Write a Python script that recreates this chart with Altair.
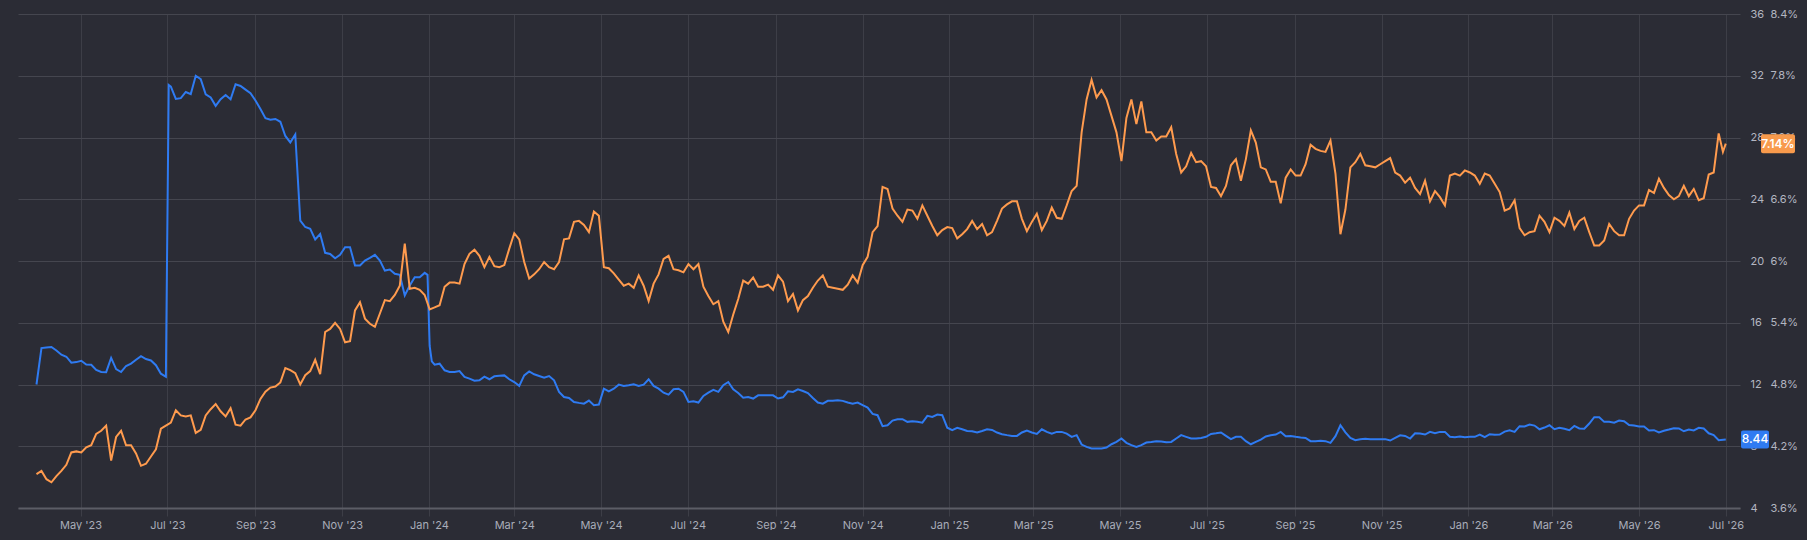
import altair as alt
import pandas as pd
import jinja2

# ---------------- data ----------------
# weekly readings (Fridays from 2023-03-31) and mid-week readings (3.5 days later)
WEEK_START = "2023-03-31"
MIDWEEK_START = "2023-04-03 12:00"

BLUE_WEEKLY = [
    12.0, 14.4, 14.2, 13.8, 13.45, 13.3, 12.95, 12.8, 13.0, 13.2,
    13.6, 13.65, 13.25, 12.5, 30.5, 30.95, 32.0, 30.8, 30.05, 30.75,
    31.45, 31.1, 30.4, 29.25, 29.2, 28.1, 28.2, 22.2, 21.4, 20.53,
    20.18, 20.89, 19.71, 20.03, 20.40, 19.38, 19.17, 17.77, 18.95, 19.23,
    13.28, 12.92, 12.81, 12.49, 12.25, 12.51, 12.53, 12.59, 12.16, 12.59,
    12.66, 12.44, 12.27, 11.19, 10.87, 10.76, 10.66, 11.73, 11.73, 11.91,
    12.01, 11.99, 11.91, 11.47, 11.69, 11.52, 10.91, 11.26, 11.65, 11.95,
    11.69, 11.15, 11.09, 11.30, 11.30, 11.17, 11.52, 11.58, 11.13, 10.76,
    10.94, 10.94, 10.76, 10.66, 10.09, 9.30, 9.66, 9.75, 9.62, 9.53,
    9.90, 10.01, 9.04, 9.10, 8.97, 8.99, 9.06, 8.78, 8.67, 8.89,
    8.89, 9.10, 8.82, 8.93, 8.61, 8.11, 7.85, 7.85, 8.13, 8.50,
    8.07, 8.07, 8.28, 8.31, 8.28, 8.72, 8.50, 8.54, 8.80, 8.89,
    8.46, 8.61, 8.13, 8.43, 8.71, 8.93, 8.67, 8.56, 8.33, 8.35,
    8.22, 9.36, 8.54, 8.46, 8.46, 8.46, 8.37, 8.71, 8.50, 8.82,
    8.93, 8.93, 8.61, 8.63, 8.61, 8.76, 8.78, 8.76, 9.04, 9.30,
    9.41, 9.10, 9.36, 9.19, 9.04, 9.15, 9.47, 9.88, 9.58, 9.66,
    9.38, 9.28, 9.02, 8.89, 9.08, 9.15, 9.08, 9.19, 8.84, 8.39,
]

BLUE_MIDWEEK = [
    14.36, 14.43, 13.93, 13.41, 13.54, 13.28, 12.81, 13.72, 12.81, 13.35,
    13.84, 13.56, 12.70, 31.30, 30.55, 30.81, 31.78, 30.59, 30.48, 30.48,
    31.34, 30.87, 29.84, 29.15, 29.02, 27.68, 22.62, 22.08, 21.75, 20.46,
    20.40, 20.89, 19.71, 20.20, 20.03, 19.45, 19.10, 18.41, 18.95, 14.5,
    13.35, 12.81, 12.87, 12.38, 12.27, 12.34, 12.57, 12.34, 11.91, 12.85,
    12.55, 12.55, 11.52, 11.13, 10.81, 10.96, 10.70, 11.56, 11.99, 11.95,
    11.91, 12.34, 11.73, 11.34, 11.73, 10.87, 10.83, 11.47, 11.52, 12.16,
    11.45, 11.19, 11.30, 11.30, 11.09, 11.56, 11.69, 11.45, 10.83, 10.94,
    10.98, 10.83, 10.83, 10.50, 10.01, 9.36, 9.75, 9.58, 9.58, 9.97,
    10.05, 9.20, 9.19, 8.99, 8.89, 9.10, 8.89, 8.72, 8.67, 9.02,
    8.80, 8.93, 8.93, 8.82, 8.72, 7.96, 7.85, 7.92, 8.28, 8.22,
    7.96, 8.24, 8.33, 8.26, 8.50, 8.61, 8.50, 8.61, 8.84, 8.67,
    8.61, 8.33, 8.28, 8.63, 8.76, 8.65, 8.61, 8.54, 8.33, 8.33,
    8.65, 8.90, 8.39, 8.48, 8.46, 8.46, 8.54, 8.67, 8.84, 8.76,
    8.84, 8.93, 8.59, 8.59, 8.61, 8.59, 8.74, 8.95, 8.93, 9.28,
    9.34, 9.21, 9.10, 9.13, 9.32, 9.13, 9.88, 9.58, 9.53, 9.62,
    9.34, 9.28, 9.04, 9.00, 9.17, 8.97, 9.02, 9.15, 8.72,
]

ORANGE_WEEKLY = [
    3.93, 3.88, 3.91, 4.02, 4.15, 4.19, 4.32, 4.40, 4.29, 4.21,
    4.13, 4.03, 4.17, 4.40, 4.55, 4.49, 4.33, 4.50, 4.61, 4.49,
    4.41, 4.46, 4.55, 4.73, 4.78, 4.96, 4.91, 4.89, 5.04, 5.31,
    5.40, 5.21, 5.52, 5.44, 5.36, 5.62, 5.67, 6.17, 5.74, 5.67,
    5.55, 5.75, 5.79, 5.97, 6.11, 5.94, 5.95, 5.96, 6.27, 5.99,
    5.87, 5.99, 5.92, 6.21, 6.38, 6.35, 6.48, 5.94, 5.88, 5.76,
    5.74, 5.76, 5.78, 6.02, 5.92, 5.89, 5.92, 5.75, 5.58, 5.41,
    5.48, 5.81, 5.84, 5.75, 5.72, 5.80, 5.68, 5.62, 5.74, 5.86,
    5.74, 5.72, 5.86, 5.96, 6.28, 6.72, 6.51, 6.38, 6.49, 6.54,
    6.34, 6.30, 6.32, 6.26, 6.39, 6.36, 6.28, 6.51, 6.58, 6.41,
    6.38, 6.30, 6.52, 6.41, 6.68, 7.25, 7.76, 7.66, 7.41, 6.97,
    7.57, 7.55, 7.25, 7.21, 7.30, 6.86, 7.05, 6.97, 6.72, 6.63,
    6.93, 6.78, 7.27, 6.91, 6.77, 6.56, 6.89, 6.83, 7.13, 7.07,
    7.17, 6.26, 6.91, 7.04, 6.92, 6.94, 7.00, 6.83, 6.81, 6.65,
    6.58, 6.62, 6.83, 6.83, 6.86, 6.75, 6.83, 6.67, 6.51, 6.32,
    6.28, 6.44, 6.28, 6.39, 6.47, 6.39, 6.28, 6.15, 6.36, 6.25,
    6.41, 6.54, 6.69, 6.80, 6.64, 6.63, 6.63, 6.59, 6.84, 7.24,
]

ORANGE_MIDWEEK = [
    3.96, 3.85, 3.96, 4.14, 4.14, 4.21, 4.35, 4.06, 4.35, 4.21,
    4.01, 4.10, 4.37, 4.43, 4.50, 4.50, 4.36, 4.56, 4.54, 4.57,
    4.40, 4.48, 4.66, 4.77, 4.82, 4.94, 4.80, 4.93, 4.90, 5.34,
    5.34, 5.22, 5.60, 5.39, 5.49, 5.61, 5.76, 5.73, 5.72, 5.53,
    5.57, 5.79, 5.78, 6.07, 6.05, 6.04, 5.94, 6.12, 6.21, 5.83,
    5.92, 5.94, 5.99, 6.22, 6.39, 6.28, 6.44, 5.93, 5.82, 5.78,
    5.86, 5.61, 5.87, 6.05, 5.91, 5.97, 5.97, 5.66, 5.61, 5.31,
    5.63, 5.78, 5.75, 5.77, 5.86, 5.61, 5.52, 5.66, 5.81, 5.75,
    5.73, 5.77, 5.79, 6.04, 6.34, 6.70, 6.44, 6.50, 6.41, 6.44,
    6.25, 6.33, 6.22, 6.31, 6.31, 6.25, 6.39, 6.55, 6.58, 6.29,
    6.46, 6.39, 6.42, 6.54, 6.73, 7.57, 7.59, 7.57, 7.25, 7.39,
    7.33, 7.25, 7.17, 7.21, 7.04, 6.92, 6.96, 6.92, 6.71, 6.73,
    6.99, 6.99, 7.15, 6.89, 6.77, 6.81, 6.83, 6.94, 7.09, 7.06,
    6.85, 6.50, 6.96, 6.93, 6.91, 6.97, 6.86, 6.76, 6.71, 6.78,
    6.68, 6.54, 6.85, 6.88, 6.83, 6.85, 6.75, 6.49, 6.59, 6.25,
    6.29, 6.38, 6.42, 6.34, 6.31, 6.42, 6.15, 6.20, 6.29, 6.25,
    6.49, 6.54, 6.66, 6.71, 6.60, 6.73, 6.70, 6.61, 6.86,
]

# a few extra readings at the sharp steps and at the very end
BLUE_EXTRA_DATES = ["2023-07-02", "2023-12-31", "2024-01-03", "2026-07-01"]
BLUE_EXTRA = [31.4, 19.1, 13.5, 8.44]

ORANGE_EXTRA_DATES = ["2026-06-29", "2026-07-01"]
ORANGE_EXTRA = [7.06, 7.14]

LEFT_TICKS = [4, 8, 12, 16, 20, 24, 28, 32, 36]
RIGHT_TICKS = [3.6, 4.2, 4.8, 5.4, 6.0, 6.6, 7.2, 7.8, 8.4]

# ---------------- styling ----------------
BG = "#2b2c35"
GRID = "#45464f"
VGRID = "#3d3e47"
BLUE = "#2f7bf2"
ORANGE = "#ff9b4e"
LABEL = "#b3b6c1"
FONT = "Inter"


def series(weekly, midweek, extra_dates, extra):
    d = (list(pd.date_range(WEEK_START, periods=len(weekly), freq="7D"))
         + list(pd.date_range(MIDWEEK_START, periods=len(midweek), freq="7D"))
         + list(pd.to_datetime(extra_dates)))
    return pd.DataFrame({"date": d, "v": list(weekly) + list(midweek) + list(extra)}
                        ).sort_values("date").reset_index(drop=True)


blue_df = series(BLUE_WEEKLY, BLUE_MIDWEEK, BLUE_EXTRA_DATES, BLUE_EXTRA)
orange_df = series(ORANGE_WEEKLY, ORANGE_MIDWEEK, ORANGE_EXTRA_DATES, ORANGE_EXTRA)

blue_last = pd.DataFrame({"v": [BLUE_EXTRA[-1]]})
orange_last = pd.DataFrame({"v": [ORANGE_EXTRA[-1]]})

x_scale = alt.Scale(domain=[alt.DateTime(year=2023, month=3, date=18),
                            alt.DateTime(year=2026, month=7, date=11)])
x_enc = alt.X(
    "date:T", scale=x_scale, title=None,
    axis=alt.Axis(
        format="%b '%y", tickCount=alt.TickCount(interval="month", step=2),
        grid=True, gridColor=VGRID, gridWidth=1,
        ticks=True, tickColor=VGRID, tickSize=8,
        domain=True, domainColor="#5c5d66", domainWidth=2,
        labelPadding=3, labelColor="#a9adb9",
    ),
)

blue_scale = alt.Scale(domain=[4, 36], nice=False, zero=False)
orange_scale = alt.Scale(domain=[3.6, 8.4], nice=False, zero=False)

blue_axis = alt.Axis(orient="right", values=LEFT_TICKS, grid=True,
                     gridColor=GRID, gridWidth=1, ticks=False, domain=False,
                     labelPadding=10, labelAlign="left")
orange_axis = alt.Axis(orient="right", values=RIGHT_TICKS, grid=False,
                       ticks=False, domain=False, labelPadding=30,
                       labelAlign="left",
                       labelExpr="format(datum.value, '.1~f') + '%'")

blue_line = alt.Chart(blue_df).mark_line(color=BLUE, strokeWidth=2).encode(
    x=x_enc,
    y=alt.Y("v:Q", scale=blue_scale, title=None, axis=blue_axis),
)
blue_rect = alt.Chart(blue_last).transform_calculate(
    lo="datum.v - 0.58", hi="datum.v + 0.58"
).mark_rect(color=BLUE, cornerRadius=2).encode(
    x=alt.value(1723), x2=alt.value(1751),
    y=alt.Y("lo:Q", scale=blue_scale, title=None, axis=blue_axis), y2="hi:Q",
)
blue_text = alt.Chart(blue_last).transform_calculate(
    label="format(datum.v, '.2f')"
).mark_text(color="white", fontSize=12, fontWeight=500, font=FONT,
            align="center", baseline="middle").encode(
    x=alt.value(1737),
    y=alt.Y("v:Q", scale=blue_scale, title=None, axis=blue_axis),
    text="label:N",
)

orange_line = alt.Chart(orange_df).mark_line(color=ORANGE, strokeWidth=2).encode(
    x=x_enc,
    y=alt.Y("v:Q", scale=orange_scale, title=None, axis=orange_axis),
)
orange_rect = alt.Chart(orange_last).transform_calculate(
    lo="datum.v - 0.092", hi="datum.v + 0.092"
).mark_rect(color="#f89a4c", cornerRadius=2).encode(
    x=alt.value(1743), x2=alt.value(1777),
    y=alt.Y("lo:Q", scale=orange_scale, title=None, axis=orange_axis), y2="hi:Q",
)
orange_text = alt.Chart(orange_last).transform_calculate(
    label="format(datum.v, '.2f') + '%'"
).mark_text(color="white", fontSize=12, fontWeight=600, font=FONT,
            align="center", baseline="middle").encode(
    x=alt.value(1760),
    y=alt.Y("v:Q", scale=orange_scale, title=None, axis=orange_axis),
    text="label:N",
)

blue_layer = alt.layer(blue_line, blue_rect, blue_text)
orange_layer = alt.layer(orange_line, orange_rect, orange_text)

chart = alt.layer(blue_layer, orange_layer).resolve_scale(
    y="independent"
).properties(
    width=1722, height=494, background=BG,
    padding={"left": 10, "top": 0, "right": 0, "bottom": 0},
).configure_view(stroke=None).configure_axis(
    labelFont=FONT, labelFontSize=11, labelColor=LABEL,
)

# Page template: the standard one, with the page itself in the chart's dark colour.
PAGE = jinja2.Template("""<!DOCTYPE html>
<html>
<head>
  <style>
    html, body { background: """ + BG + """; }
    #{{ output_div }}.vega-embed { width: 100%; display: flex; }
  </style>
  <script type="text/javascript" src="{{ base_url }}/vega@{{ vega_version }}"></script>
  <script type="text/javascript" src="{{ base_url }}/vega-lite@{{ vegalite_version }}"></script>
  <script type="text/javascript" src="{{ base_url }}/vega-embed@{{ vegaembed_version }}"></script>
</head>
<body>
  <div id="{{ output_div }}"></div>
  <script>
    (function(vegaEmbed) {
      var spec = {{ spec }};
      var embedOpt = {{ embed_options }};
      function showError(el, error){
          el.innerHTML = ('<div style="color:red;"><p>JavaScript Error: ' + error.message + '</p></div>');
          throw error;
      }
      const el = document.getElementById('{{ output_div }}');
      vegaEmbed("#{{ output_div }}", spec, embedOpt).catch(error => showError(el, error));
    })(vegaEmbed);
  </script>
</body>
</html>
""")

chart.save("out.html", embed_options={"renderer": "svg", "actions": False},
           template=PAGE)
